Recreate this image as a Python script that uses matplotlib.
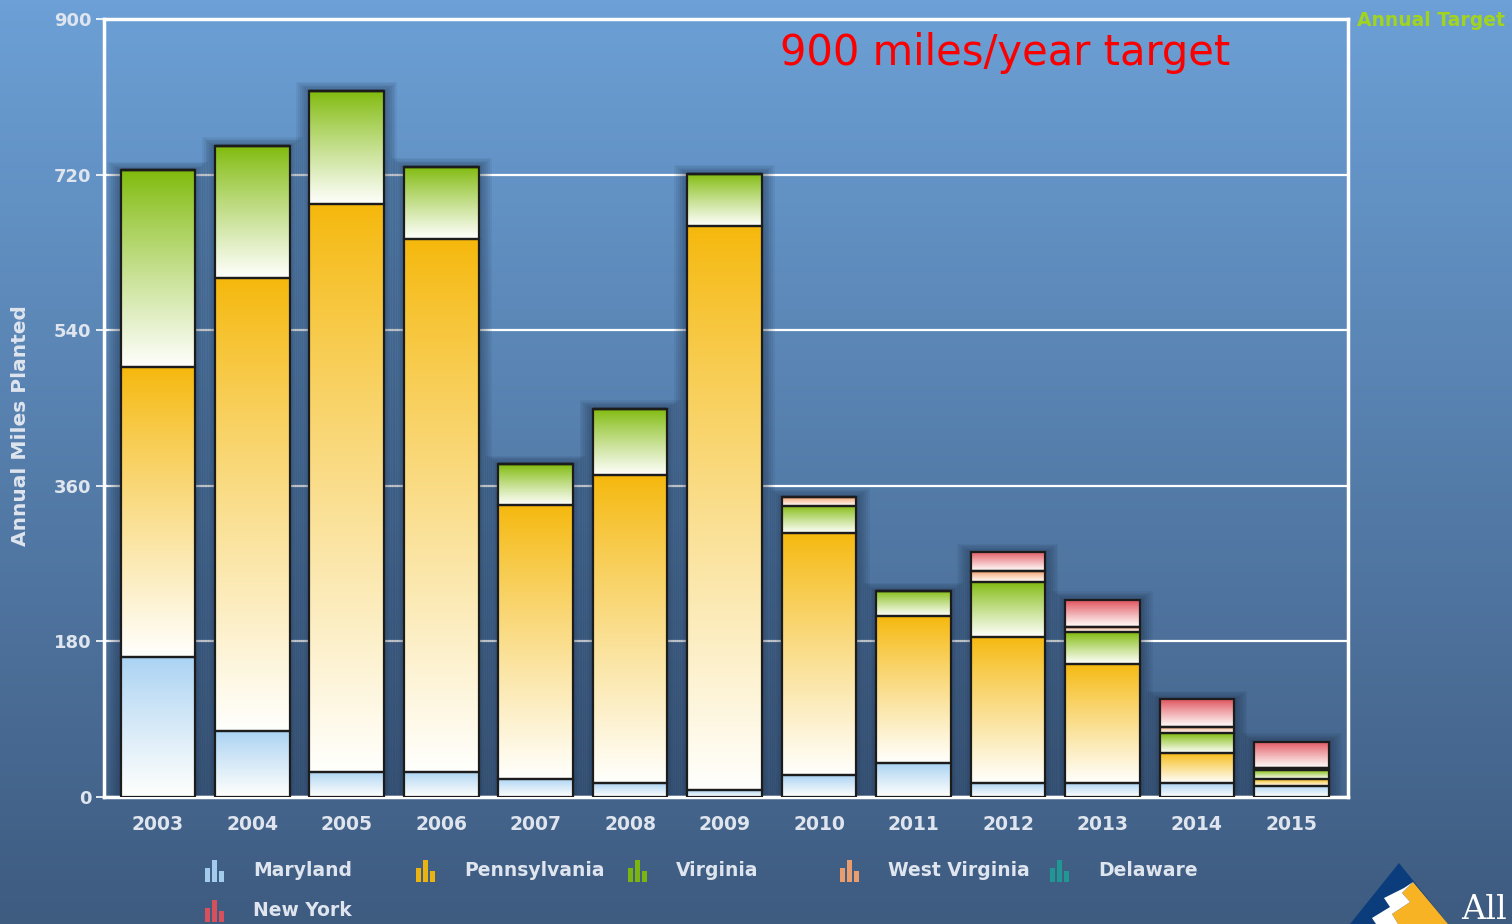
import numpy as np
import matplotlib
matplotlib.use('Agg')
import matplotlib.pyplot as plt
from matplotlib.colors import to_rgb
from matplotlib.patches import Rectangle, Polygon

years = ['2003', '2004', '2005', '2006', '2007', '2008', '2009',
         '2010', '2011', '2012', '2013', '2014', '2015']
maryland      = [162, 76, 29, 29, 21, 16, 8, 25, 39, 16, 16, 16, 13]
pennsylvania  = [335, 524, 657, 616, 317, 356, 652, 280, 170, 169, 138, 35, 8]
virginia      = [228, 153, 131, 84, 47, 77, 61, 32, 29, 64, 37, 23, 10]
west_virginia = [0, 0, 0, 0, 0, 0, 0, 10, 0, 12, 6, 7, 2]
delaware      = [0, 0, 0, 0, 0, 0, 0, 0, 0, 0, 0, 0, 0]
new_york      = [0, 0, 0, 0, 0, 0, 0, 0, 0, 22, 31, 32, 31]
y_ticks = [0, 180, 360, 540, 720, 900]

series = [
    ('Maryland', maryland, '#a9d2f3'),
    ('Pennsylvania', pennsylvania, '#f5b80c'),
    ('Virginia', virginia, '#7fba0a'),
    ('West Virginia', west_virginia, '#f3a06c'),
    ('Delaware', delaware, '#1f9a96'),
    ('New York', new_york, '#e0505a'),
]

W, H = 1512, 924
fig = plt.figure(figsize=(W / 100, H / 100), dpi=100)

# background gradient
bg = fig.add_axes([0, 0, 1, 1], zorder=-10)
top_c = np.array(to_rgb('#6ca0d6'))
bot_c = np.array(to_rgb('#3e5b80'))
t = np.linspace(0, 1, 256)[:, None]
grad = top_c[None, :] * (1 - t) + bot_c[None, :] * t
bg.imshow(grad[:, None, :].repeat(2, axis=1), aspect='auto', extent=[0, 1, 0, 1])
bg.set_xlim(0, 1); bg.set_ylim(0, 1)
bg.axis('off')

ax = fig.add_axes([104 / W, 1 - 797 / H, (1348 - 104) / W, (797 - 19) / H])
ax.set_facecolor('none')

x = np.arange(len(years))
width = 0.79
bottom = np.zeros(len(years))

totals = np.sum([np.array(s[1], dtype=float) for s in series], axis=0)

# shadows behind bars
for xi, tot in zip(x, totals):
    for k in range(7):
        px = 0.02 + 0.02 * k
        py = 1 + 1.5 * k
        ax.add_patch(Rectangle((xi - width / 2 - px, 0), width + 2 * px, tot + py,
                               facecolor='#15243a', edgecolor='none', alpha=0.07, zorder=1))

for name, vals, col in series:
    vals = np.array(vals, dtype=float)
    bars = ax.bar(x, vals, width, bottom=bottom, facecolor='none',
                  edgecolor='#1c1c1c', linewidth=1.6, zorder=3)
    c = np.array(to_rgb(col))
    white = np.array([1.0, 1.0, 0.99])
    tt = np.linspace(0, 1, 128)[:, None] ** 0.9
    g = c[None, :] * (1 - tt) + white[None, :] * tt
    img = g[:, None, :].repeat(2, axis=1)
    for b, v in zip(bars, vals):
        if v <= 0:
            continue
        x0, y0 = b.get_x(), b.get_y()
        im = ax.imshow(img, aspect='auto', extent=[x0, x0 + b.get_width(), y0, y0 + b.get_height()],
                       zorder=2, interpolation='bilinear')
        im.set_clip_path(b)
    bottom += vals

ax.set_xlim(-0.57, len(years) - 1 + 0.6)
ax.set_ylim(0, 900)
ax.set_yticks(y_ticks)
ax.set_xticks(x)
ax.set_xticklabels(years)
ax.yaxis.grid(True, color='white', linewidth=1.6, zorder=0)
ax.set_axisbelow(True)
for sp in ax.spines.values():
    sp.set_color('white')
    sp.set_linewidth(2.5)
ax.tick_params(axis='y', colors='white', length=6, width=1.2, labelcolor='#dfe5ee',
               labelsize=13, pad=3)
ax.tick_params(axis='x', length=0, labelcolor='#dfe5ee', labelsize=13.5, pad=13)
for lab in ax.get_xticklabels() + ax.get_yticklabels():
    lab.set_fontweight('bold')

fig.text(21 / W, 1 - 426 / H, 'Annual Miles Planted', rotation=90, ha='center', va='center',
         color='#dfe5ee', fontsize=14.5, fontweight='bold')

fig.text(780 / W, 1 - 53 / H, '900 miles/year target', color='#fa0000', fontsize=30,
         ha='left', va='center')
fig.text(1357 / W, 1 - 20 / H, 'Annual Target', color='#a2d41e', fontsize=13.5,
         fontweight='bold', ha='left', va='center')

# legend
legend_pos = [(205, 871), (416, 871), (628, 871), (840, 871), (1050, 871), (205, 911)]
for (name, vals, col), (lx, ly) in zip(series, legend_pos):
    for j, (dx, hh) in enumerate([(0, 14), (7, 22), (14, 11)]):
        fig.patches.append(Rectangle(((lx + dx) / W, 1 - (ly + 11) / H), 5 / W, hh / H,
                                     transform=fig.transFigure, facecolor=col,
                                     edgecolor='none', alpha=0.95))
    fig.text((lx + 48) / W, 1 - ly / H, name, color='#dfe5ee', fontsize=13.5,
             fontweight='bold', ha='left', va='center')

# logo (partial, bottom-right)
def P(pts):
    return [(px / W, 1 - py / H) for px, py in pts]

fig.patches.append(Polygon(P([(1399, 863), (1350, 924), (1448, 924)]), closed=True,
                           transform=fig.transFigure, facecolor='#0b3c7c', edgecolor='none'))
fig.patches.append(Polygon(P([(1413, 882), (1448, 924), (1398, 924), (1392, 914),
                              (1410, 902), (1402, 893)]), closed=True,
                           transform=fig.transFigure, facecolor='#f7b324', edgecolor='none'))
fig.patches.append(Polygon(P([(1413, 882), (1402, 893), (1410, 902), (1392, 914),
                              (1398, 924), (1376, 924), (1372, 918), (1390, 907),
                              (1384, 898), (1404, 888)]), closed=True,
                           transform=fig.transFigure, facecolor='white', edgecolor='none'))
fig.text(1461 / W, 1 - 910 / H, 'All', color='white', fontsize=24, family='DejaVu Serif',
         ha='left', va='center')

fig.savefig('out.png', dpi=100)
